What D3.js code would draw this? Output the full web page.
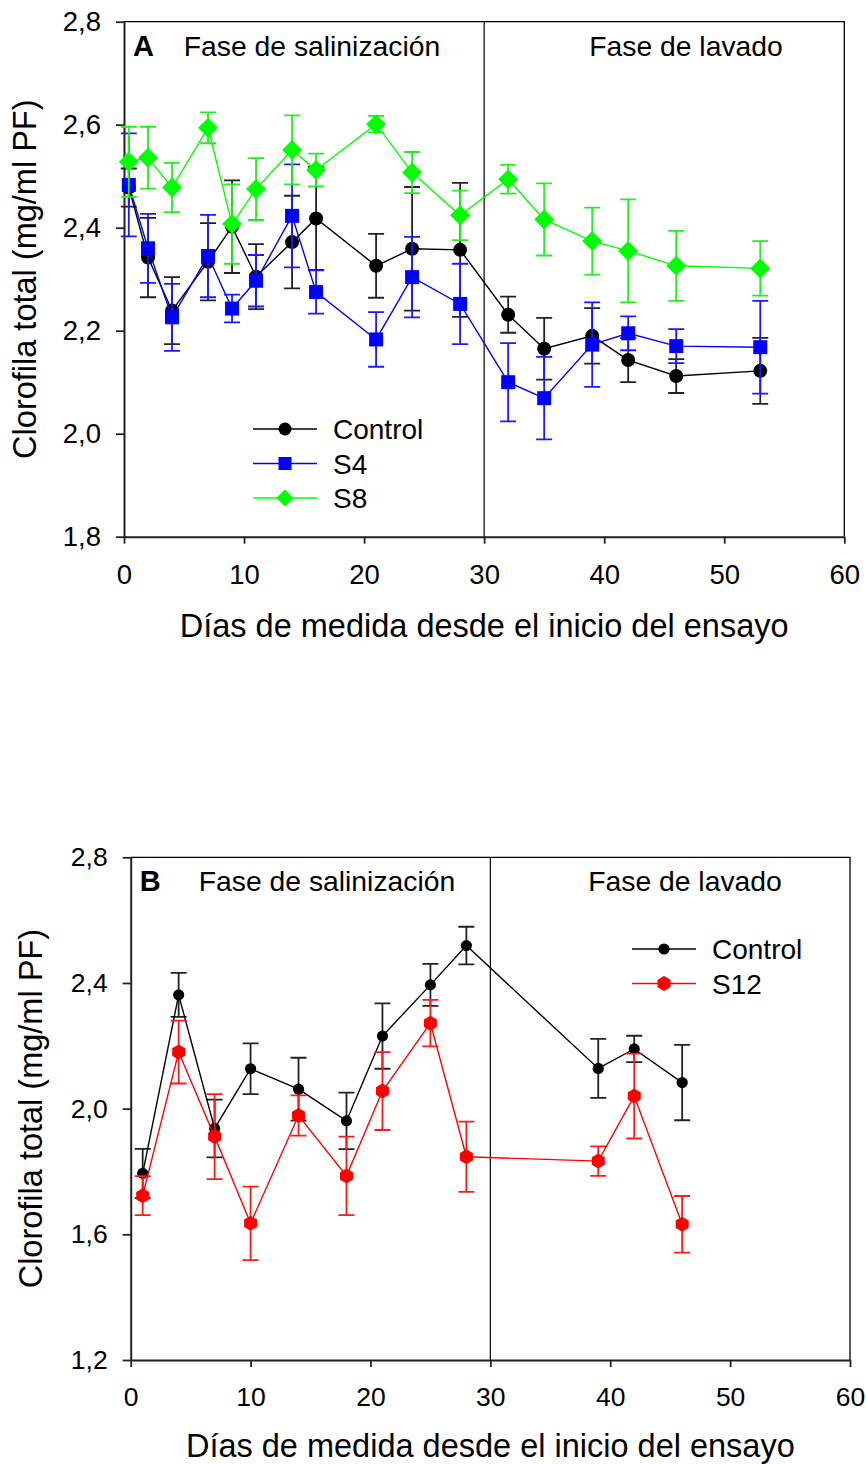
<!DOCTYPE html>
<html><head><meta charset="utf-8">
<script src="https://cdn.jsdelivr.net/npm/d3@7"></script>
<style>
body{margin:0;background:#fff}
svg{display:block}
text{font-family:"Liberation Sans",Arial,Helvetica,sans-serif;fill:#000}
</style>
</head><body>
<svg id="c" width="866" height="1464"></svg>
<script>
// ---------- DATA: panel A ----------
const daysA = [0.4, 2, 4, 7, 9, 11, 14, 16, 21, 24, 28, 32, 35, 39, 42, 46, 53];
const controlA = [2.478, 2.342, 2.239, 2.334, 2.402, 2.305, 2.372, 2.418, 2.326, 2.359, 2.357, 2.231, 2.165, 2.190, 2.143, 2.112, 2.122];
const controlAErr = [0.037, 0.077, 0.065, 0.075, 0.09, 0.063, 0.09, 0.10, 0.062, 0.12, 0.13, 0.035, 0.06, 0.054, 0.043, 0.033, 0.064];
const s4 = [2.483, 2.360, 2.226, 2.345, 2.243, 2.297, 2.423, 2.275, 2.183, 2.304, 2.252, 2.100, 2.069, 2.173, 2.195, 2.170, 2.168];
const s4Err = [0.10, 0.067, 0.065, 0.08, 0.027, 0.05, 0.10, 0.042, 0.053, 0.078, 0.078, 0.076, 0.08, 0.082, 0.033, 0.033, 0.09];
const s8 = [2.528, 2.536, 2.478, 2.594, 2.407, 2.475, 2.551, 2.512, 2.601, 2.507, 2.424, 2.494, 2.416, 2.374, 2.355, 2.326, 2.321];
const s8Err = [0.068, 0.06, 0.048, 0.03, 0.077, 0.06, 0.067, 0.032, 0.016, 0.04, 0.048, 0.028, 0.07, 0.065, 0.10, 0.068, 0.053];
const yTicksA = [1.8, 2.0, 2.2, 2.4, 2.6, 2.8];

// ---------- DATA: panel B ----------
const daysB = [1, 4, 7, 10, 14, 18, 21, 25, 28, 39, 42, 46];
const controlB = [1.794, 2.362, 1.937, 2.127, 2.062, 1.961, 2.231, 2.394, 2.519, 2.128, 2.190, 2.083];
const controlBErr = [0.078, 0.07, 0.092, 0.081, 0.10, 0.09, 0.104, 0.067, 0.06, 0.094, 0.042, 0.12];
const s12 = [1.723, 2.180, 1.911, 1.635, 1.978, 1.786, 2.056, 2.272, 1.847, 1.833, 2.040, 1.632];
const s12Err = [0.062, 0.10, 0.135, 0.117, 0.064, 0.125, 0.124, 0.074, 0.112, 0.047, 0.135, 0.09];
const yTicksB = [1.2, 1.6, 2.0, 2.4, 2.8];

const xTicks = [0, 10, 20, 30, 40, 50, 60];
const phaseSplit = 30;
const phaseLabels = ["Fase de salinización", "Fase de lavado"];
const yTitle = "Clorofila total (mg/ml PF)";
const xTitle = "Días de medida desde el inicio del ensayo";

// ---------- helpers ----------
const svg = d3.select("#c");
const FONT = '"Liberation Sans",Arial,Helvetica,sans-serif';
const fmt = v => d3.format(".1f")(v).replace(".", ",");

function markerPath(type, s) {
  if (type === "circle") return d3.symbol(d3.symbolCircle, Math.PI * s * s)();
  if (type === "square") return `M${-s},${-s}H${s}V${s}H${-s}Z`;
  if (type === "diamond") return `M0,${-s}L${s},0L0,${s}L${-s},0Z`;
  if (type === "hexagon") {
    const pts = d3.range(6).map(i => {
      const a = Math.PI / 3 * i - Math.PI / 2;
      return [s * Math.cos(a), s * Math.sin(a)];
    });
    return "M" + pts.map(p => p.join(",")).join("L") + "Z";
  }
}

function panel(cfg) {
  const g = svg.append("g");
  const x = d3.scaleLinear().domain([0, 60]).range([cfg.left, cfg.right]);
  const y = d3.scaleLinear().domain(cfg.yDomain).range([cfg.bottom, cfg.top]);

  g.append("path")
    .attr("d", `M${cfg.left},${cfg.top}H${cfg.right}V${cfg.bottom}`)
    .attr("fill", "none").attr("stroke", "#000").attr("stroke-width", 1.3);

  const ax = g.append("g").attr("transform", `translate(0,${cfg.bottom})`)
    .call(d3.axisBottom(x).tickValues(xTicks).tickFormat(d3.format("d"))
      .tickSizeOuter(0).tickSizeInner(7).tickPadding(cfg.xPad));
  const ay = g.append("g").attr("transform", `translate(${cfg.left},0)`)
    .call(d3.axisLeft(y).tickValues(cfg.yTicks).tickFormat(fmt)
      .tickSizeOuter(0).tickSizeInner(8).tickPadding(cfg.yPad));
  [ax, ay].forEach(a => {
    a.select(".domain").attr("stroke", "#222").attr("stroke-width", 2);
    a.selectAll(".tick line").attr("stroke", "#222").attr("stroke-width", 1.8);
    a.selectAll("text").attr("font-family", FONT).attr("font-size", cfg.tickFont).attr("fill", "#000");
  });

  g.append("line")
    .attr("x1", x(phaseSplit)).attr("x2", x(phaseSplit))
    .attr("y1", cfg.top).attr("y2", cfg.bottom)
    .attr("stroke", "#000").attr("stroke-width", 1.2);

  g.append("text").attr("x", cfg.left + 9).attr("y", cfg.top + 34)
    .attr("font-size", 29).attr("font-weight", "bold").text(cfg.letter);
  g.append("text").attr("x", cfg.phaseX[0]).attr("y", cfg.top + 34)
    .attr("text-anchor", "middle").attr("font-size", 28.3).text(phaseLabels[0]);
  g.append("text").attr("x", cfg.phaseX[1]).attr("y", cfg.top + 34)
    .attr("text-anchor", "middle").attr("font-size", 28.3).text(phaseLabels[1]);

  g.append("text")
    .attr("transform", `translate(${cfg.yTitleX},${(cfg.top + cfg.bottom) / 2}) rotate(-90)`)
    .attr("text-anchor", "middle").attr("font-size", 32.5).text(yTitle);
  g.append("text").attr("x", (cfg.left + cfg.right) / 2).attr("y", cfg.xTitleY)
    .attr("text-anchor", "middle").attr("font-size", 32.5).text(xTitle);

  cfg.series.forEach(s => {
    const sg = g.append("g");
    const pts = s.days.map((d, i) => ({ d, v: s.values[i], e: s.errs[i] }));
    pts.forEach(p => {
      const cx = x(p.d), y1 = y(p.v + p.e), y2 = y(p.v - p.e), cw = cfg.cap;
      sg.append("path")
        .attr("d", `M${cx},${y1}V${y2}M${cx - cw},${y1}H${cx + cw}M${cx - cw},${y2}H${cx + cw}`)
        .attr("fill", "none").attr("stroke", s.errColor).attr("stroke-width", 1.8);
    });
    sg.append("path")
      .attr("d", d3.line().x(p => x(p.d)).y(p => y(p.v))(pts))
      .attr("fill", "none").attr("stroke", s.color).attr("stroke-width", 1.4);
    sg.selectAll("path.m").data(pts).join("path").attr("class", "m")
      .attr("transform", p => `translate(${x(p.d)},${y(p.v)})`)
      .attr("d", markerPath(s.symbol, s.size)).attr("fill", s.color);
  });

  cfg.series.forEach((s, i) => {
    const ly = cfg.legend.y + i * cfg.legend.dy;
    g.append("line").attr("x1", cfg.legend.x1).attr("x2", cfg.legend.x2)
      .attr("y1", ly).attr("y2", ly).attr("stroke", s.color).attr("stroke-width", 1.4);
    g.append("path").attr("transform", `translate(${(cfg.legend.x1 + cfg.legend.x2) / 2},${ly})`)
      .attr("d", markerPath(s.symbol, s.legendSize)).attr("fill", s.color);
    g.append("text").attr("x", cfg.legend.tx).attr("y", ly).attr("dy", "0.36em")
      .attr("font-size", 28).text(s.name);
  });
}

panel({
  left: 124, right: 844.3, top: 21.7, bottom: 536.7,
  yDomain: [1.8, 2.8], yTicks: yTicksA, xPad: 21, yPad: 15, tickFont: 27.5,
  letter: "A", phaseX: [312, 686], yTitleX: 36, xTitleY: 637, cap: 8,
  series: [
    { name: "Control", days: daysA, values: controlA, errs: controlAErr, color: "#000", errColor: "#222", symbol: "circle", size: 7, legendSize: 6.5 },
    { name: "S4", days: daysA, values: s4, errs: s4Err, color: "#0000ff", errColor: "#1a1aff", symbol: "square", size: 7, legendSize: 6.5 },
    { name: "S8", days: daysA, values: s8, errs: s8Err, color: "#00ff00", errColor: "#22ee22", symbol: "diamond", size: 10, legendSize: 8.5 }
  ],
  legend: { x1: 253, x2: 317, tx: 333, y: 429, dy: 34.5 }
});

panel({
  left: 130.7, right: 850, top: 857.3, bottom: 1360,
  yDomain: [1.2, 2.8], yTicks: yTicksB, xPad: 20, yPad: 15, tickFont: 26.5,
  letter: "B", phaseX: [327, 685], yTitleX: 42, xTitleY: 1457, cap: 8,
  series: [
    { name: "Control", days: daysB, values: controlB, errs: controlBErr, color: "#000", errColor: "#222", symbol: "circle", size: 5.6, legendSize: 5.6 },
    { name: "S12", days: daysB, values: s12, errs: s12Err, color: "#ff0000", errColor: "#ff1a1a", symbol: "hexagon", size: 7.5, legendSize: 7.5 }
  ],
  legend: { x1: 632, x2: 696, tx: 712, y: 949, dy: 34.5 }
});
</script>
</body></html>
